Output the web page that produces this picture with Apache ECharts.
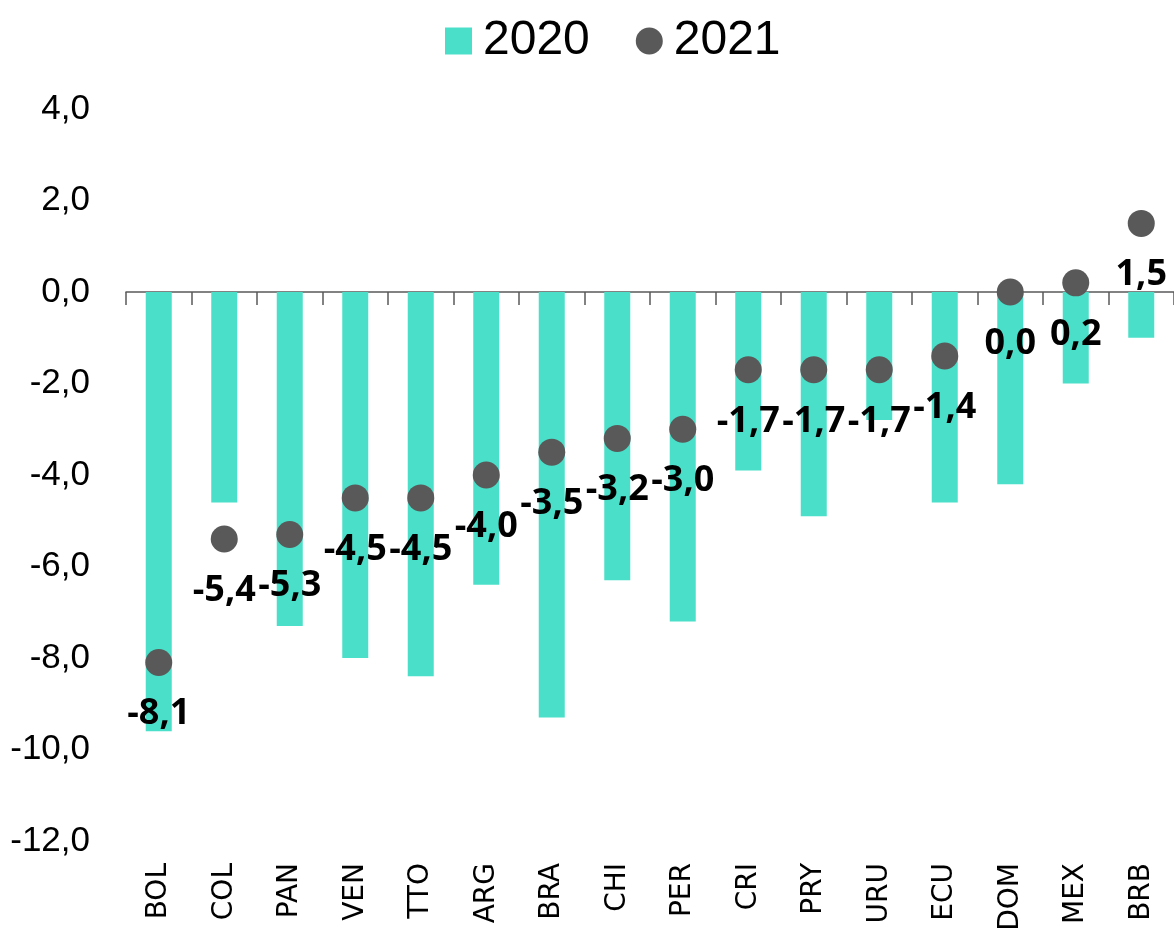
<!DOCTYPE html>
<html>
<head>
<meta charset="utf-8">
<script src="https://cdn.jsdelivr.net/npm/echarts@6/dist/echarts.min.js"></script>
<style>
  html, body { margin: 0; padding: 0; background: #fff; }
  #container { width: 1174px; height: 951px; }
</style>
</head>
<body>
<div id="container"></div>
<script>
const countries = ["BOL", "COL", "PAN", "VEN", "TTO", "ARG", "BRA", "CHI", "PER", "CRI", "PRY", "URU", "ECU", "DOM", "MEX", "BRB"];
const values2020 = [-9.6, -4.6, -7.3, -8.0, -8.4, -6.4, -9.3, -6.3, -7.2, -3.9, -4.9, -2.8, -4.6, -4.2, -2.0, -1.0];
const values2021 = [-8.1, -5.4, -5.3, -4.5, -4.5, -4.0, -3.5, -3.2, -3.0, -1.7, -1.7, -1.7, -1.4, 0.0, 0.2, 1.5];

const comma = (v) => Number(v).toFixed(1).replace(".", ",");

const dom = document.getElementById("container");
const myChart = echarts.init(dom, null, { renderer: "canvas" });

const option = {
  animation: false,
  legend: {
    top: 12,
    left: 440,
    itemWidth: 27,
    itemHeight: 27,
    itemGap: 46,
    textStyle: {
      fontFamily: "'Liberation Sans Narrow', 'Liberation Sans', sans-serif",
      fontSize: 48,
      color: "#000",
      padding: [0, 0, 0, 6],
    },
    data: [
      { name: "2020", icon: "rect" },
      { name: "2021", icon: "circle" },
    ],
  },
  grid: {
    left: 126,
    right: 0,
    top: 109,
    bottom: 110,
  },
  xAxis: [
    {
      type: "category",
      data: countries,
      position: "bottom",
      axisLine: { show: false, onZero: false },
      axisTick: { show: false },
      axisLabel: {
        rotate: 90,
        margin: 22,
        fontFamily: "'DejaVu Sans', Verdana, sans-serif",
        fontSize: 28,
        color: "#000",
      },
    },
    {
      type: "category",
      data: countries,
      position: "bottom",
      axisLine: {
        onZero: true,
        lineStyle: { color: "#595959", width: 1.5 },
      },
      axisTick: {
        show: true,
        length: 13,
        lineStyle: { color: "#595959", width: 1.5 },
      },
      axisLabel: { show: false },
    },
  ],
  yAxis: {
    type: "value",
    min: -12,
    max: 4,
    interval: 2,
    axisLine: { show: false },
    axisTick: { show: false },
    splitLine: { show: false },
    axisLabel: {
      margin: 36,
      formatter: comma,
      fontFamily: "'Liberation Sans Narrow', 'Liberation Sans', sans-serif",
      fontSize: 35,
      color: "#000",
    },
  },
  series: [
    {
      name: "2020",
      type: "bar",
      xAxisIndex: 0,
      data: values2020,
      barWidth: 26,
      itemStyle: { color: "#4ADFC9" },
    },
    {
      name: "2021",
      type: "scatter",
      xAxisIndex: 0,
      data: values2021,
      symbol: "circle",
      symbolSize: 27,
      z: 5,
      itemStyle: { color: "#595959", opacity: 1 },
      label: {
        show: true,
        position: "bottom",
        distance: 20,
        formatter: (p) => comma(p.value),
        fontFamily: "'Open Sans', sans-serif",
        fontWeight: "bold",
        fontSize: 36,
        color: "#000",
      },
    },
  ],
};

myChart.setOption(option);
</script>
</body>
</html>
